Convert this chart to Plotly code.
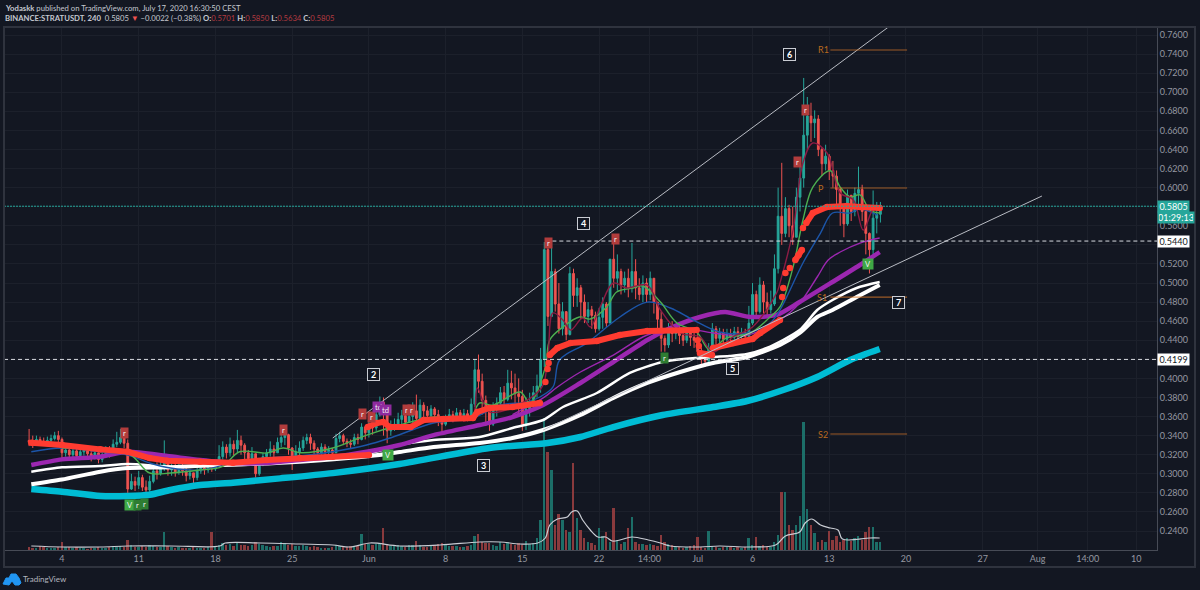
import pandas as pd
import plotly.graph_objects as go

BASE = pd.Timestamp("2020-05-04")

# 8h candles, three values per day from May 1 to Jul 17
closes = [
    .333,.331,.336, .334,.333,.335, .337,.340,.336, .322,.325,.320, .324,.319,.323, .325,.321,.318,
    .322,.315,.320, .324,.321,.331, .333,.338,.332, .284,.292,.288, .296,.286,.283, .292,.303,.300,
    .306,.312,.304, .308,.302,.306, .303,.298,.301, .296,.303,.306, .304,.307,.305, .309,.318,.328,
    .322,.331,.326, .335,.330,.322, .316,.321,.300, .312,.318,.322, .326,.322,.333, .338,.341,.327,
    .318,.323,.327, .335,.338,.332, .326,.322,.328, .323,.325,.322, .337,.340,.334, .332,.331,.338,
    .336,.349,.343, .352,.348,.362, .375,.363,.345, .349,.352,.357, .361,.354,.360, .366,.358,.372,
    .366,.361,.368, .362,.357,.352, .358,.362,.360, .364,.361,.363, .360,.373,.409, .397,.377,.366,
    .352,.368,.374, .385,.378,.395, .390,.384,.381, .352,.368,.375, .385,.392,.420, .535,.465,.512,
    .478,.452,.470, .446,.510,.487, .495,.480,.465, .472,.466,.452, .464,.478,.458, .525,.505,.512,
    .498,.505,.495, .512,.495,.488, .500,.488,.505, .480,.462,.442, .435,.450,.447, .452,.445,.440,
    .449,.443,.440, .428,.420,.418, .432,.452,.442, .448,.441,.446, .443,.449,.444, .448,.444,.458,
    .488,.470,.498, .480,.472,.478, .515,.570,.552, .578,.560,.548, .590,.610,.655, .675,.668,.672,
    .640,.625,.633, .618,.612,.598, .578,.562,.592, .575,.594,.598, .575,.552,.535, .568,.572,.5805,
]
highs = [
    .347,.340,.340, .339,.338,.339, .341,.344,.345, .338,.329,.327, .329,.327,.328, .329,.328,.326,
    .326,.325,.325, .329,.329,.336, .344,.347,.345, .336,.300,.297, .303,.299,.293, .298,.309,.312,
    .318,.335,.314, .313,.311,.312, .312,.306,.305, .301,.308,.311, .310,.311,.309, .313,.330,.334,
    .331,.338,.335, .346,.340,.332, .325,.328,.320, .316,.322,.326, .334,.330,.338, .346,.348,.342,
    .328,.330,.334, .339,.342,.342, .335,.328,.332, .331,.329,.327, .342,.344,.342, .337,.336,.342,
    .342,.353,.350, .358,.360,.368, .381,.380,.372, .356,.358,.364, .367,.368,.366, .375,.383,.378,
    .375,.371,.372, .370,.367,.360, .362,.368,.366, .369,.367,.368, .367,.379,.420, .425,.405,.382,
    .372,.375,.380, .391,.392,.409, .408,.405,.400, .388,.380,.385, .392,.404,.432, .543,.540,.543,
    .515,.500,.480, .452,.517,.515, .505,.498,.488, .480,.476,.470, .474,.485,.480, .515,.541,.530,
    .515,.512,.515, .542,.525,.505, .508,.505,.512, .490,.480,.470, .445,.458,.460, .456,.456,.452,
    .454,.453,.450, .449,.432,.426, .437,.458,.455, .453,.452,.452, .452,.454,.454, .453,.452,.476,
    .500,.492,.506, .502,.490,.492, .530,.600,.626, .590,.582,.580, .600,.625,.715, .695,.689,.681,
    .676,.642,.645, .635,.628,.618, .600,.583,.598, .590,.600,.622, .603,.570,.553, .597,.585,.585,
]
lows = [
    .329,.327,.330, .330,.330,.331, .332,.335,.331, .315,.318,.314, .316,.315,.317, .319,.316,.313,
    .315,.311,.312, .317,.317,.320, .328,.331,.327, .280,.283,.282, .284,.282,.280, .281,.290,.294,
    .298,.303,.298, .298,.297,.299, .298,.292,.294, .289,.293,.300, .299,.301,.302, .303,.307,.315,
    .316,.318,.319, .322,.320,.314, .312,.312,.296, .298,.308,.312, .318,.317,.322, .328,.330,.320,
    .304,.316,.318, .324,.331,.325, .320,.317,.320, .318,.319,.317, .322,.333,.330, .328,.327,.329,
    .331,.335,.336, .338,.341,.345, .360,.340,.332, .340,.345,.348, .350,.350,.354, .352,.352,.356,
    .358,.357,.359, .355,.350,.344, .350,.355,.354, .356,.356,.357, .355,.357,.370, .385,.362,.350,
    .345,.350,.360, .371,.370,.376, .378,.372,.362, .345,.346,.360, .370,.380,.385, .412,.455,.465,
    .470,.447,.445, .440,.445,.475, .475,.462,.458, .458,.452,.448, .450,.452,.454, .470,.495,.492,
    .488,.490,.485, .490,.483,.482, .480,.480,.482, .468,.452,.428, .428,.432,.438, .441,.436,.434,
    .437,.434,.432, .424,.415,.412, .414,.429,.436, .434,.435,.437, .436,.440,.438, .438,.440,.442,
    .456,.464,.468, .468,.466,.468, .476,.510,.540, .548,.548,.540, .548,.575,.600, .640,.648,.652,
    .633,.612,.618, .608,.600,.580, .560,.548,.560, .565,.570,.580, .565,.530,.510, .530,.552,.5634,
]
volumes = [
    3,2,2, 4,3,2, 2,2,3, 8,3,3, 2,3,2, 2,1,2, 2,3,2, 2,3,4, 3,4,3, 10,5,3, 3,4,3, 5,4,3, 3,18,4,
    3,2,3, 2,2,2, 3,2,2, 2,3,18, 4,5,7, 5,6,4, 7,5,5, 4,5,8, 6,5,4, 3,4,4, 8,7,5, 6,4,4, 5,4,3,
    4,3,2, 2,2,3, 5,4,3, 3,4,3, 4,16,6, 6,5,6, 7,22,6, 4,5,5, 4,3,5, 5,9,5, 3,3,4, 5,6,7, 5,4,4,
    4,3,3, 4,5,14, 16,8,7, 7,5,4, 8,6,8, 6,5,7, 5,9,6, 7,12,30, 132,98,80, 25,36,30, 20,18,87,
    32,20,12, 8,7,5, 22,14,18, 8,42,10, 6,8,22, 33,8,6, 6,5,6, 5,4,15, 8,6,5, 3,3,2, 3,4,5, 13,3,2,
    19,4,3, 2,3,3, 3,2,3, 2,3,12, 5,13,4, 5,4,3, 8,15,58, 58,25,20, 25,34,128, 41,25,17, 8,10,8,
    19,10,14, 8,10,12, 9,12,14, 10,18,23, 23,8,8,
]

vol_avg_days = [-2.8,0,3.5,6,9.9,14.4,14.9,18.1,21.7,24.7,26.3,28.1,30.8,34.5,38.1,40,41.8,43.4,44.1,44.5,
                45.2,46.1,46.5,47,47.5,48.2,48.9,49.6,50.2,50.9,52,53.5,54.6,55.5,58.2,60,62.8,65.1,66,
                67.3,67.8,68.4,69.2,70.1,70.8,71.2,73.7,74.6]
vol_avg = [4,3,3,4,4,4,7,7,6,5,3,7,4,5,8,8,6,7,12,25,31,33,38,39,30,20,13,13,9,10,13,10,7,4,3,4,3,5,14,
           18,27,31,25,22,20,11,12,12]

cyan_days = [-2.8,0,3.5,6,8,9.9,12.6,15.6,19.9,24.7,30.8,39,44.3,47.3,50.3,54.8,59.4,62.5,65.8,68.9,71.9,74.6]
cyan_ma = [.284,.2812,.2767,.2767,.278,.283,.2882,.2907,.2952,.3007,.3102,.327,.3323,.3386,.349,.3616,.37,
           .3763,.3878,.4015,.4193,.4308]

white_low_days = [-2.8,0,3.5,6,9.9,12.6,17.2,21.7,28.1,30.8,33.9,38.1,41.1,43.9,47.3,50.3,53.4,56.4,59.4,62.5,
                  65.5,67.3,68.9,70.3,72.5,74.6]
white_low = [.289,.294,.3022,.306,.3068,.3085,.3102,.3127,.3186,.3228,.328,.3323,.3375,.3459,.3616,.3795,
             .3952,.4067,.4161,.4224,.435,.4476,.4644,.4717,.4853,.498]

white_up_days = [-2.8,0,3.5,6,9.9,12.6,17.2,21.7,28.1,30.8,33.9,38.1,41.1,43.9,45.7,48.8,51.8,54.8,57.9,60.9,
                 62.5,64.3,67.3,68.9,70.3,72.5,74.6]
white_up = [.3022,.3068,.3082,.3102,.3075,.3082,.3097,.3145,.3218,.3302,.3354,.3386,.348,.3564,.37,.3847,
            .4057,.4172,.4214,.4235,.4256,.4319,.4507,.4717,.4822,.4948,.501]

purple_days = [-2.8,0,3.5,6,9.6,12.6,15.6,18.7,21.7,24.7,27.8,30.8,33.9,38.1,41.1,43.9,47.3,50.3,53.4,55.5,
               58.2,60.5,62.8,65.2,67.3,70.3,72.8,74.6]
purple_ma = [.3092,.3151,.3179,.3231,.3186,.3144,.3113,.3113,.3144,.3176,.3231,.3302,.3406,.3511,.3595,
             .3721,.3952,.4172,.4403,.4528,.4644,.4696,.4644,.4665,.4801,.5011,.5189,.5325]

purple_thin_days = [41.1,43.9,45.2,47.3,50.3,53.4,56.4,59.4,62.5,65.5,67.3,68.9,69.9,71,72.8,74.6]
purple_thin = [.362,.3795,.391,.4067,.4245,.4455,.4528,.4476,.4455,.4612,.479,.5063,.5241,.5325,.5419,.5472]

blue_days = [-2.8,0,3.5,6,8,9.9,12.6,15.6,18.7,21.7,24.7,27.8,30.2,33.9,37.5,40,42.4,43.6,44.8,45.4,47.9,
             50.9,53.4,55.5,57.6,60,62.5,64.6,65.5,67.6,69.2,70.3,71.9,72.8,74.4]
blue_ma = [.3231,.327,.3231,.3197,.3113,.306,.304,.3113,.3165,.3186,.3231,.3302,.3386,.3532,.3585,.3721,
           .3752,.3805,.391,.4193,.4371,.4644,.48,.4738,.4612,.4486,.4476,.4581,.4717,.521,.5524,.5734,
           .5734,.5776,.5713]

green_days = [0,6,8,9.9,12.6,14.6,16.2,18.7,20.2,21.7,24.7,27.8,30.8,33.9,37.2,38.1,39.3,41.8,42.7,44.1,
              44.5,45.7,47.2,48.2,49.7,50.6,52.1,53,54.6,56.1,57.9,59.1,60.6,62.8,64.6,65.5,66.7,67.6,
              68.5,70.1,71,71.9,72.8,73.7,74.6]
green_ma = [.327,.3218,.3008,.3008,.304,.3074,.3231,.3218,.327,.3221,.327,.3406,.3511,.3595,.3585,.3742,
            .372,.3857,.3742,.412,.4403,.4539,.4644,.4623,.4749,.4906,.4948,.4969,.48,.4581,.4486,.4298,
            .4423,.4476,.4644,.4749,.5168,.5661,.6006,.6177,.6006,.5902,.5923,.5766,.5734]

maroon_days = [36.6,37.5,37.9,39,43.6,44.3,44.8,45.7,46.4,47.5,48.2,49.1,50.3,51.5,53.4,54.6,56.4,58.2,59.4,
               61.2,63,65.2,65.5,66.7,67.6,68.5,69.8,71,72.2,73.1,74,74.6]
maroon_ma = [.355,.36,.39,.365,.3878,.4193,.4686,.4612,.4507,.4633,.4539,.4749,.5,.4948,.4979,.4717,.4476,
             .4434,.4277,.4434,.4539,.4895,.5,.5555,.6258,.6468,.6363,.5944,.5872,.5555,.5766,.5766]

red_days = [-2.8,0,3.5,6,8,9.6,12.6,15.6,18.7,21.7,24.7,28,None,
            27.9,28.7,29.3,29.9,31.8,33,34.8,37.5,37.9,39,41.1,43.6,None,
            44.1,None,44.3,None,44.4,None,
            44.5,45.2,46.4,48.8,50.9,53.4,57.9,None,
            58,None,58.1,None,58.2,59.3,None,
            59.4,61.2,63,63.7,65.5,None,
            65.7,None,65.8,None,66,None,66.4,None,66.9,67.2,67.5,None,67.6,None,
            67.9,68.5,69.8,71.6,72.8,74.6]
red_ma = [.3326,.3302,.3256,.3231,.3165,.3137,.3127,.3116,.3144,.3165,.3179,.3197,None,
          .349,.3532,.3543,.349,.349,.3564,.3574,.3585,.3648,.369,.37,.3742,None,
          .3962,None,.4098,None,.4161,None,
          .4245,.4319,.4371,.4392,.4455,.4497,.4507,None,
          .44,None,.434,None,.4266,.4245,None,
          .4319,.4371,.4413,.4476,.4612,None,
          .4853,None,.4948,None,.5105,None,.5157,None,.5241,.5294,.5346,None,.5577,None,
          .5629,.5734,.5797,.5808,.5797,.5787]

# ticks, the labels under the price boxes are hidden in the reference
price_ticks = [round(.24 + .02 * i, 2) for i in range(27)]
hidden_ticks = [.42, .54, .58]
time_tick_days = [0,7,14,21,28,35,42,49,53.58,58,63,70,77,84,89,93.58,98]
time_tick_text = ["4","11","18","25","Jun","8","15","22","14:00","Jul","6","13","20","27","Aug","14:00","10"]

# drawn levels
pivot_names = ["R1","P","S1","S2"]
pivot_prices = [.7443,.5996,.4853,.3417]
box_names = ["2","3","4","5","6","7"]
box_days = [28.4,38.5,47.6,61.2,66.4,76.3]
box_prices = [.4046,.3092,.5619,.4109,.7391,.4801]
tag_names = ["r","r","r","r","r","r","r","r","r","r","td","td","V","V","V","r","r","r"]
tag_days = [5.7,20.2,27.4,28.2,31.4,31.9,44.4,50.5,67.8,67.1,28.9,29.5,6.2,29.7,73.5,6.9,7.5,55]
tag_prices = [.3427,.3459,.3627,.3595,.3669,.3669,.542,.5461,.6814,.6269,.37,.3669,.2673,.3197,.5199,.2673,.2683,.4214]
tag_colors = ["#b23c3c"]*10 + ["#8e2a9e"]*2 + ["#3fa845"]*3 + ["#2e7d32"]*3
tag_widths = [6]*10 + [10]*2 + [9]*3 + [6]*3


def to_dates(days):
    return [None if d is None else BASE + pd.Timedelta(days=d) for d in days]


def paper_x(px):
    return (px - 4) / 1153


def paper_y(py):
    return (550 - py) / 523


candle_dates = pd.date_range("2020-05-01", periods=len(closes), freq="8h")
opens = [.335] + closes[:-1]
vol_colors = ["#1c6e68" if c >= o else "#8a3a3d" for c, o in zip(closes, opens)]

fig = go.Figure()
fig.add_trace(go.Bar(x=candle_dates, y=volumes, marker_color=vol_colors, marker_line_width=0,
                     yaxis="y2", width=4.2 * 3600 * 1000))
fig.add_trace(go.Scatter(x=to_dates(vol_avg_days), y=vol_avg, mode="lines", yaxis="y2",
                         line=dict(color="#c9ccd3", width=1.2, shape="spline")))

# moving averages under the candles
for days, vals, color, width in [
    (cyan_days, cyan_ma, "#00bcd4", 6.5),
    (white_low_days, white_low, "#ffffff", 4),
    (white_up_days, white_up, "#ffffff", 2.5),
    (purple_days, purple_ma, "#9c27b0", 4.5),
]:
    fig.add_trace(go.Scatter(x=to_dates(days), y=vals, mode="lines",
                             line=dict(color=color, width=width, shape="spline", smoothing=0.7)))

fig.add_trace(go.Candlestick(
    x=candle_dates, open=opens, high=highs, low=lows, close=closes,
    increasing=dict(line=dict(color="#26a69a", width=1), fillcolor="#26a69a"),
    decreasing=dict(line=dict(color="#ef5350", width=1), fillcolor="#ef5350"),
))

for days, vals, color in [
    (purple_thin_days, purple_thin, "#9c27b0"),
    (blue_days, blue_ma, "#1c55a8"),
    (green_days, green_ma, "#4caf50"),
    (maroon_days, maroon_ma, "#8c1c44"),
]:
    fig.add_trace(go.Scatter(x=to_dates(days), y=vals, mode="lines",
                             line=dict(color=color, width=1.4, shape="spline")))

fig.add_trace(go.Scatter(x=to_dates(red_days), y=red_ma, mode="lines+markers",
                         line=dict(color="#ff3b30", width=6), marker=dict(color="#ff3b30", size=6.5)))

# trend lines
fig.add_trace(go.Scatter(x=to_dates([24.7, 75.4]), y=[.3375, .7684], mode="lines",
                         line=dict(color="#b9bcc4", width=1)))
fig.add_trace(go.Scatter(x=to_dates([43.9, 89.4]), y=[.3459, .5912], mode="lines",
                         line=dict(color="#b9bcc4", width=1)))

shapes = [
    dict(type="line", xref="paper", yref="y", x0=0, x1=1, y0=.5805, y1=.5805,
         line=dict(color="#26a69a", width=1, dash="2px,1px")),
    dict(type="line", xref="paper", yref="y", x0=0, x1=1, y0=.4199, y1=.4199,
         line=dict(color="#d8dae0", width=1, dash="4px,3px")),
    dict(type="line", xref="x", yref="y", x0=BASE + pd.Timedelta(days=44.1), x1=BASE + pd.Timedelta(days=99.9),
         y0=.544, y1=.544, line=dict(color="#d8dae0", width=1, dash="4px,3px")),
    dict(type="rect", xref="paper", yref="paper", x0=paper_x(4), x1=paper_x(1195), y0=paper_y(567), y1=paper_y(27),
         line=dict(color="#2f333e", width=2)),
]
for price in pivot_prices:
    shapes.append(dict(type="line", xref="x", yref="y", x0=BASE + pd.Timedelta(days=70.1),
                       x1=BASE + pd.Timedelta(days=77.1), y0=price, y1=price,
                       line=dict(color="rgba(214,120,40,0.7)", width=1.2)))

# TradingView logo, a small cloud
logo_points = [(3,584),(6,578),(9,578),(11,574),(16,574),(19,578),(21,583),(19,585),(15,585),(12,581),(9,585)]
logo_path = "M" + " L".join(f"{paper_x(a)},{paper_y(b)}" for a, b in logo_points) + " Z"
shapes.append(dict(type="path", xref="paper", yref="paper", path=logo_path,
                   fillcolor="#2196f3", line=dict(color="#2196f3", width=1)))

ann_font = "Lato"
annotations = []


def note(text, px, py, size=7.7, color="#c5c8d0", anchor="left", **kw):
    annotations.append(dict(text=text, xref="paper", yref="paper", x=paper_x(px), y=paper_y(py), showarrow=False,
                            xanchor=anchor, yanchor="middle", font=dict(family=ann_font, size=size, color=color),
                            **kw))


note("<b>Yodaskk</b> published on TradingView.com, July 17, 2020 16:30:50 CEST", 3, 7.5)
red_txt = '<span style="color:#b23a40">%s</span>'
note("<b>BINANCE:STRATUSDT, 240</b>  0.5805 " + '<span style="color:#ef5350">▼</span>' +
     " −0.0022 (−0.38%) <b>O:</b>" + red_txt % "0.5701" + " <b>H:</b>" + red_txt % "0.5850" +
     " <b>L:</b>" + red_txt % "0.5634" + " <b>C:</b>" + red_txt % "0.5805", 3, 18)
note("TradingView", 21, 579, size=8, color="#b2b5be")

for name, price, px in zip(pivot_names, pivot_prices, [823, 821, 822, 823]):
    annotations.append(dict(text=name, xref="x", yref="y", x=BASE + pd.Timedelta(days=(px - 62) / 10.96), y=price,
                            showarrow=False, font=dict(family=ann_font, size=9, color="#b8691f")))

for name, day, price in zip(box_names, box_days, box_prices):
    annotations.append(dict(text=f"<b>{name}</b>", xref="x", yref="y", x=BASE + pd.Timedelta(days=day), y=price,
                            showarrow=False, font=dict(family=ann_font, size=9, color="#ffffff"), width=9, height=9,
                            align="center", bgcolor="#131722", bordercolor="#c9ccd3", borderwidth=1, borderpad=1))

for name, day, price, color, w in zip(tag_names, tag_days, tag_prices, tag_colors, tag_widths):
    annotations.append(dict(text=name, xref="x", yref="y", x=BASE + pd.Timedelta(days=day), y=price,
                            showarrow=False, font=dict(family=ann_font, size=7.5, color="#f2f2f2"), width=w, height=9,
                            align="center", bgcolor=color, borderpad=0.5))

# price scale labels
for text, price, bg, fg, shift, w in [("0.5805", .5805, "#26a69a", "#ffffff", 0, 29),
                                      ("01:29:13", .5805, "#26a69a", "#ffffff", -11.5, 34),
                                      ("0.5440", .544, "#ffffff", "#131722", 0, 29),
                                      ("0.4199", .4199, "#ffffff", "#131722", 0, 29)]:
    annotations.append(dict(text=text, xref="paper", yref="y", x=1, y=price, xanchor="left", yshift=shift,
                            showarrow=False, font=dict(family=ann_font, size=9, color=fg), width=w, height=9,
                            bgcolor=bg, borderpad=1))

fig.update_layout(
    width=1200, height=590,
    margin=dict(l=4, r=43, t=27, b=40),
    paper_bgcolor="#131722", plot_bgcolor="#131722",
    showlegend=False,
    hovermode=False,
    bargap=0,
    shapes=shapes,
    annotations=annotations,
    xaxis=dict(
        type="date",
        range=[BASE + pd.Timedelta(days=-5.29), BASE + pd.Timedelta(days=99.9)],
        tickmode="array", tickvals=to_dates(time_tick_days), ticktext=time_tick_text,
        tickfont=dict(family=ann_font, size=9, color="#9598a1"),
        gridcolor="#1c202b", showline=True, linecolor="#474b56", ticks="", rangeslider=dict(visible=False),
    ),
    yaxis=dict(
        side="right", overlaying="y2",
        range=[.2201, .7684],
        tickmode="array", tickvals=price_ticks,
        ticktext=["" if p in hidden_ticks else f"{p:.4f}" for p in price_ticks],
        tickfont=dict(family=ann_font, size=9, color="#9598a1"),
        gridcolor="#1c202b", showline=True, linecolor="#474b56", ticks="", zeroline=False,
    ),
    yaxis2=dict(range=[0, 523], visible=False, showgrid=False),
)

fig.write_html("out.html", config=dict(displayModeBar=False),
               post_script="document.body.style.margin='0';document.body.style.background='#131722';document.body.style.overflow='hidden';")
